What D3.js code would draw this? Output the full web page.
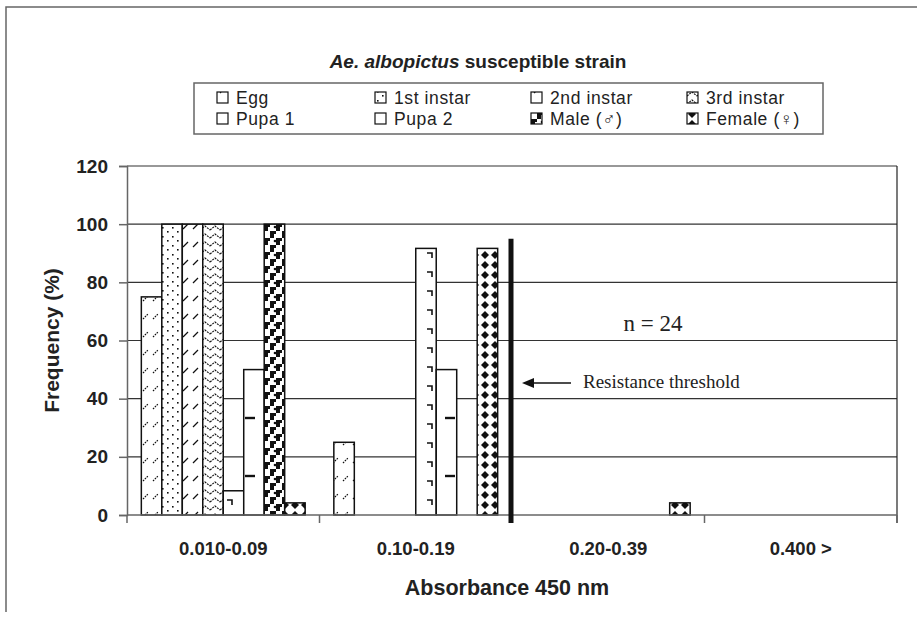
<!DOCTYPE html>
<html>
<head>
<meta charset="utf-8">
<script src="https://cdn.jsdelivr.net/npm/d3@7"></script>
<style>
  body { margin: 0; background: #fff; }
  svg { font-family: "Liberation Sans", Arial, sans-serif; }
</style>
</head>
<body>
<div id="chart"></div>
<script>
// data
const groups = ["0.010-0.09", "0.10-0.19", "0.20-0.39", "0.400 >"];
const series = ["Egg", "1st instar", "2nd instar", "3rd instar", "Pupa 1", "Pupa 2", "Male (\u2642)", "Female (\u2640)"];
const egg = [75, 25, 0, 0];
const instar1 = [100, 0, 0, 0];
const instar2 = [100, 0, 0, 0];
const instar3 = [100, 0, 0, 0];
const pupa1 = [8.33, 91.67, 0, 0];
const pupa2 = [50, 50, 0, 0];
const male = [100, 0, 0, 0];
const female = [4.17, 91.67, 4.17, 0];
const yTicks = [0, 20, 40, 60, 80, 100, 120];
const threshold = 95; // top of threshold bar, in %

const values = [egg, instar1, instar2, instar3, pupa1, pupa2, male, female];
const patIds = ["pEgg", "p1st", "p2nd", "p3rd", "pPupa1", "pPupa2", "pMale", "pFemale"];

const width = 917;
const height = 618;
const margin = { top: 166, right: 20, bottom: 103, left: 127 };

const svg = d3
  .select("#chart")
  .append("svg")
  .attr("width", width)
  .attr("height", height);

// patterns
const defs = svg.append("defs");
function pat(id, w, h) {
  return defs
    .append("pattern")
    .attr("id", id)
    .attr("patternUnits", "userSpaceOnUse")
    .attr("width", w)
    .attr("height", h);
}
function bg(p, w, h) {
  p.append("rect").attr("width", w).attr("height", h).attr("fill", "#fff");
}

let p = pat("pEgg", 10, 18);
bg(p, 10, 18);
p.append("path").attr("d", "M3,13 L8,8").attr("stroke", "#111").attr("stroke-width", 1.2).attr("stroke-dasharray", "1.6,1");

p = pat("p1st", 10, 9);
bg(p, 10, 9);
p.append("rect").attr("x", 2).attr("y", 2).attr("width", 1.6).attr("height", 1.6).attr("fill", "#111");
p.append("rect").attr("x", 7).attr("y", 6).attr("width", 1.6).attr("height", 1.6).attr("fill", "#111");

p = pat("p2nd", 10, 18);
bg(p, 10, 18);
p.append("path").attr("d", "M3,13 L8,8").attr("stroke", "#111").attr("stroke-width", 1.2);

p = pat("p3rd", 10, 8);
bg(p, 10, 8);
p.append("path").attr("d", "M0,6 L5,2 L10,6").attr("fill", "none").attr("stroke", "#111").attr("stroke-width", 1.2).attr("stroke-dasharray", "2,1");

p = pat("pPupa1", 20, 19);
bg(p, 20, 19);
p.append("path").attr("d", "M7,6 H12 V11").attr("fill", "none").attr("stroke", "#111").attr("stroke-width", 1.6);

p = pat("pPupa2", 20, 58);
bg(p, 20, 58);
p.append("path").attr("d", "M5,12 H15").attr("stroke", "#111").attr("stroke-width", 2.4);

p = pat("pMale", 12, 14);
bg(p, 12, 14);
p.append("path").attr("d", "M0,0 H6 V3 H4 V7 H0 Z").attr("fill", "#111");
p.append("path").attr("d", "M6,7 H12 V10 H10 V14 H6 Z").attr("fill", "#111");
p.append("circle").attr("cx", 11).attr("cy", 3).attr("r", 1.3).attr("fill", "#111");

p = pat("pFemale", 10, 10);
bg(p, 10, 10);
p.append("path").attr("d", "M5,1 L9,5 L5,9 L1,5 Z").attr("fill", "#111");

// frame
svg.append("path")
  .attr("d", `M6,${height - 6} V7 H${width}`)
  .attr("fill", "none")
  .attr("stroke", "#666")
  .attr("stroke-width", 1.5);

// scales
const x = d3
  .scaleBand()
  .domain(groups)
  .range([margin.left, width - margin.right])
  .padding(0);

const xInner = d3
  .scaleBand()
  .domain(series)
  .range([0, x.bandwidth()])
  .paddingInner(0)
  .paddingOuter(0.7);

const y = d3
  .scaleLinear()
  .domain([0, 120])
  .range([height - margin.bottom, margin.top]);

// gridlines
svg.append("g")
  .selectAll("line")
  .data(yTicks.filter((d) => d > 0))
  .enter()
  .append("line")
  .attr("x1", margin.left)
  .attr("x2", width - margin.right)
  .attr("y1", (d) => y(d))
  .attr("y2", (d) => y(d))
  .attr("stroke", "#333")
  .attr("stroke-width", 1.2);

// right border of plot
svg.append("line")
  .attr("x1", width - margin.right)
  .attr("x2", width - margin.right)
  .attr("y1", y(120))
  .attr("y2", y(0) + 8)
  .attr("stroke", "#222")
  .attr("stroke-width", 1.2);

// bars
series.forEach((s, i) => {
  svg.append("g")
    .selectAll("rect")
    .data(values[i].map((v, j) => ({ g: groups[j], v })))
    .enter()
    .filter((d) => d.v > 0)
    .append("rect")
    .attr("x", (d) => x(d.g) + xInner(s))
    .attr("y", (d) => y(d.v))
    .attr("width", xInner.bandwidth())
    .attr("height", (d) => y(0) - y(d.v))
    .attr("fill", `url(#${patIds[i]})`)
    .attr("stroke", "#111")
    .attr("stroke-width", 1.5);
});

// axes
const yAxis = svg.append("g")
  .attr("transform", `translate(${margin.left}, 0)`)
  .call(d3.axisLeft(y).tickValues(yTicks).tickSize(8).tickPadding(11));
yAxis.select(".domain").attr("stroke", "#666").attr("stroke-width", 1.5);
yAxis.selectAll(".tick line").attr("stroke", "#666").attr("stroke-width", 1.5);
yAxis.selectAll("text")
  .attr("font-size", 19)
  .attr("font-weight", "bold")
  .attr("fill", "#222")
  .attr("font-family", "'Liberation Sans', Arial, sans-serif");

const xAxis = svg.append("g")
  .attr("transform", `translate(0, ${y(0)})`)
  .call(d3.axisBottom(x).tickSize(0).tickPadding(27));
xAxis.select(".domain").remove();
svg.append("line")
  .attr("x1", margin.left)
  .attr("x2", width - margin.right)
  .attr("y1", y(0))
  .attr("y2", y(0))
  .attr("stroke", "#666")
  .attr("stroke-width", 1.5);
svg.append("g")
  .selectAll("line")
  .data(groups.map((g) => x(g)).concat([width - margin.right]))
  .enter()
  .append("line")
  .attr("x1", (d) => d)
  .attr("x2", (d) => d)
  .attr("y1", y(0))
  .attr("y2", y(0) + 8)
  .attr("stroke", "#666")
  .attr("stroke-width", 1.5);
xAxis.selectAll("text")
  .attr("font-size", 18.5)
  .attr("font-weight", "bold")
  .attr("fill", "#222")
  .attr("font-family", "'Liberation Sans', Arial, sans-serif");

// threshold line
svg.append("line")
  .attr("x1", x(groups[2]) - 1)
  .attr("x2", x(groups[2]) - 1)
  .attr("y1", y(threshold))
  .attr("y2", y(0) + 8)
  .attr("stroke", "#111")
  .attr("stroke-width", 5);

// annotations
svg.append("text")
  .attr("x", 653)
  .attr("y", 331)
  .attr("text-anchor", "middle")
  .attr("font-family", "'Liberation Serif', 'Times New Roman', serif")
  .attr("font-size", 23)
  .attr("fill", "#222")
  .text("n = 24");

svg.append("text")
  .attr("x", 583)
  .attr("y", 388)
  .attr("font-family", "'Liberation Serif', 'Times New Roman', serif")
  .attr("font-size", 19)
  .attr("fill", "#222")
  .text("Resistance threshold");

svg.append("line")
  .attr("x1", 571)
  .attr("x2", 530)
  .attr("y1", 383)
  .attr("y2", 383)
  .attr("stroke", "#111")
  .attr("stroke-width", 1.5);
svg.append("path")
  .attr("d", "M522,383 L534,378 L534,388 Z")
  .attr("fill", "#111");

// title
const title = svg.append("text")
  .attr("x", 478)
  .attr("y", 68)
  .attr("text-anchor", "middle")
  .attr("font-size", 19)
  .attr("font-weight", "bold")
  .attr("fill", "#222");
title.append("tspan").attr("font-style", "italic").text("Ae. albopictus");
title.append("tspan").text(" susceptible strain");

// legend
svg.append("rect")
  .attr("x", 194)
  .attr("y", 83)
  .attr("width", 629)
  .attr("height", 51)
  .attr("fill", "#fff")
  .attr("stroke", "#666")
  .attr("stroke-width", 1.5);

const legCols = [217, 375, 531, 687];
const legRows = [98, 119];
const leg = svg.append("g")
  .selectAll("g")
  .data(series)
  .enter()
  .append("g")
  .attr("transform", (d, i) => `translate(${legCols[i % 4]}, ${legRows[Math.floor(i / 4)]})`);
leg.append("rect")
  .attr("x", 0)
  .attr("y", -6)
  .attr("width", 11)
  .attr("height", 11)
  .attr("fill", (d, i) => `url(#${patIds[i]})`)
  .attr("stroke", "#111")
  .attr("stroke-width", 1.2);
leg.append("text")
  .attr("x", 19)
  .attr("y", 6)
  .attr("font-size", 17.5)
  .attr("letter-spacing", 0.6)
  .attr("fill", "#222")
  .text((d) => d);

// axis titles
svg.append("text")
  .attr("transform", `translate(59, ${(y(0) + y(120)) / 2}) rotate(-90)`)
  .attr("text-anchor", "middle")
  .attr("font-size", 21)
  .attr("font-weight", "bold")
  .attr("fill", "#222")
  .text("Frequency (%)");

svg.append("text")
  .attr("x", 507)
  .attr("y", 595)
  .attr("text-anchor", "middle")
  .attr("font-size", 21.5)
  .attr("font-weight", "bold")
  .attr("fill", "#222")
  .text("Absorbance 450 nm");
</script>
</body>
</html>
